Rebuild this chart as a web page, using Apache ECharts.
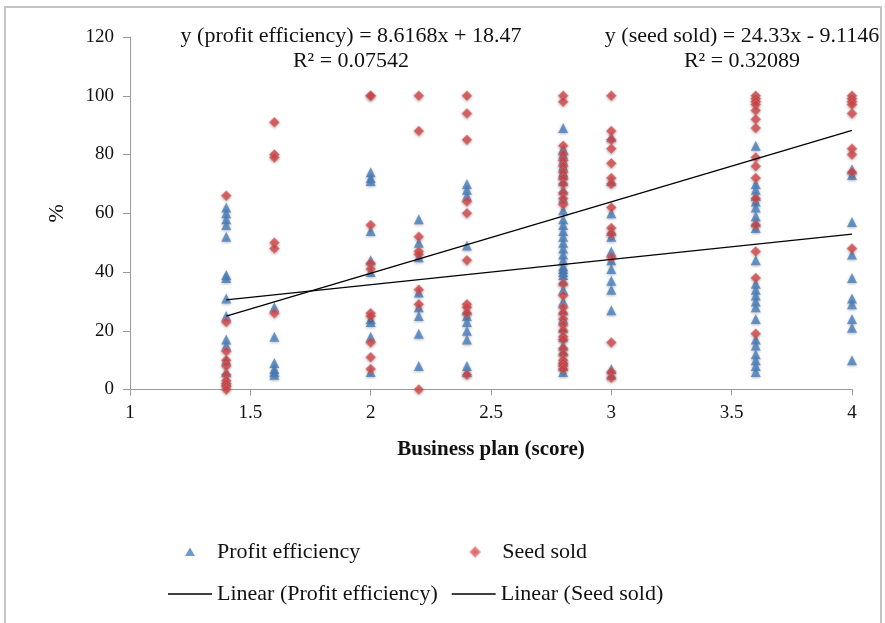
<!DOCTYPE html>
<html>
<head>
<meta charset="utf-8">
<script src="https://cdn.jsdelivr.net/npm/echarts@6/dist/echarts.min.js"></script>
<style>html,body{margin:0;padding:0;background:#fff;}#chart{width:885px;height:623px;}</style>
</head>
<body>
<div id="chart"></div>
<script>
// Business plan score categories (x) and observed values (%)
const xScores = [1.4, 1.6, 2.0, 2.2, 2.4, 2.8, 3.0, 3.6, 4.0];

const profitByScore = [
  [62, 60, 58, 56, 52, 39, 38, 31, 25, 17, 15, 10, 6, 3],
  [28, 18, 9, 7, 6, 5],
  [74, 72, 71, 54, 44, 40, 24, 23, 18, 6],
  [58, 50, 45, 33, 28, 25, 19, 8],
  [70, 68, 66, 49, 27, 25, 23, 20, 17, 8, 6],
  [89, 82, 80, 78, 76, 74, 73, 71, 68, 65, 61, 58, 56, 54, 52, 50, 48, 46, 44, 42, 41, 40, 39, 37, 34, 30, 27, 24, 21, 18, 15, 13, 10, 8, 6],
  [86, 71, 60, 54, 52, 47, 44, 41, 37, 34, 27, 7, 5],
  [83, 70, 68, 66, 64, 62, 59, 57, 55, 44, 36, 34, 32, 30, 28, 24, 17, 15, 12, 10, 8, 6],
  [75, 73, 57, 46, 38, 31, 29, 24, 21, 10]
];

const seedByScore = [
  [66, 23, 13, 10, 8, 5, 3, 2, 1, 0],
  [91, 80, 79, 50, 48, 26],
  [100, 100, 56, 43, 41, 26, 25, 16, 11, 7],
  [100, 88, 52, 47, 46, 34, 29, 0],
  [100, 94, 85, 64, 60, 44, 29, 28, 26, 5],
  [100, 98, 83, 80, 78, 76, 74, 72, 70, 67, 65, 63, 36, 32, 28, 26, 24, 22, 20, 18, 17, 14, 12, 10, 9, 8, 7],
  [100, 88, 85, 82, 77, 72, 70, 62, 55, 53, 45, 16, 6, 4],
  [100, 99, 98, 97, 95, 92, 89, 79, 76, 72, 65, 56, 47, 38, 19],
  [100, 99, 98, 97, 94, 82, 80, 74, 48]
];

// Trendline end points
const profitTrend = [[1.4, 30.5], [4.0, 52.9]];
const seedTrend = [[1.4, 25.0], [4.0, 88.2]];

const profitLabel = 'y (profit efficiency) = 8.6168x + 18.47\nR² = 0.07542';
const seedLabel = 'y (seed sold) = 24.33x - 9.1146\nR² = 0.32089';

function toPairs(groups) {
  const out = [];
  groups.forEach((vals, i) => vals.forEach(v => out.push([xScores[i], v])));
  return out;
}

const FONT = '"Liberation Serif", "Times New Roman", serif';
const AXIS_COLOR = '#9a9a9a';
// legend icons laid out inside a 44x10 box so they keep their shape
const ICON_TRI = 'path://M0,0 M44,10 M22,0.5 L27,9 L17,9 Z';
const ICON_DIA = 'path://M0,0 M44,10 M22,0.5 L26.5,5 L22,9.5 L17.5,5 Z';
const ICON_LINE = 'path://M0,0 M44,10 M0,4.3 L44,4.3 L44,5.7 L0,5.7 Z';

const legendText = { fontFamily: FONT, fontSize: 22, color: '#111' };

const chart = echarts.init(document.getElementById('chart'));
chart.setOption({
  backgroundColor: '#fff',
  animation: false,
  textStyle: { fontFamily: FONT, color: '#111' },
  graphic: [
    { type: 'polyline', shape: { points: [[5, 640], [5, 7], [881, 7], [881, 640]] },
      style: { stroke: '#c4c4c4', lineWidth: 2, fill: null } }
  ],
  title: [
    { text: profitLabel, left: 346, top: 19, textAlign: 'center',
      textStyle: { fontFamily: FONT, fontSize: 22, fontWeight: 'normal', color: '#111', lineHeight: 25, align: 'center' } },
    { text: seedLabel, left: 737, top: 19, textAlign: 'center',
      textStyle: { fontFamily: FONT, fontSize: 22, fontWeight: 'normal', color: '#111', lineHeight: 25, align: 'center' } }
  ],
  grid: { left: 130, right: 33, top: 37, bottom: 233.5, containLabel: false },
  xAxis: {
    type: 'value', min: 1, max: 4, interval: 0.5,
    name: 'Business plan (score)', nameLocation: 'middle', nameGap: 50,
    nameTextStyle: { fontFamily: FONT, fontSize: 21, fontWeight: 'bold', color: '#111' },
    axisLine: { lineStyle: { color: AXIS_COLOR, width: 1 } },
    axisTick: { show: true, length: 6, lineStyle: { color: AXIS_COLOR } },
    axisLabel: { fontFamily: FONT, fontSize: 19, color: '#111', margin: 14 },
    splitLine: { show: false }
  },
  yAxis: {
    type: 'value', min: 0, max: 120, interval: 20,
    name: '%', nameLocation: 'middle', nameGap: 62, nameRotate: 90,
    nameTextStyle: { fontFamily: FONT, fontSize: 22, color: '#111' },
    axisLine: { show: true, lineStyle: { color: AXIS_COLOR, width: 1 } },
    axisTick: { show: true, length: 7, lineStyle: { color: AXIS_COLOR } },
    axisLabel: { fontFamily: FONT, fontSize: 19, color: '#111', margin: 16 },
    splitLine: { show: false }
  },
  legend: [
    { data: [{ name: 'Profit efficiency', icon: ICON_TRI }, { name: 'Seed sold', icon: ICON_DIA }],
      left: 163, top: 536, orient: 'horizontal',
      itemWidth: 44, itemHeight: 10, itemGap: 92, textStyle: legendText },
    { data: [{ name: 'Linear (Profit efficiency)', icon: ICON_LINE }, { name: 'Linear (Seed sold)', icon: ICON_LINE }],
      left: 163, top: 578, orient: 'horizontal',
      itemWidth: 44, itemHeight: 10, itemGap: 14, textStyle: legendText }
  ],
  series: [
    { name: 'Profit efficiency', type: 'scatter', data: toPairs(profitByScore),
      symbol: 'triangle', symbolSize: [10, 10],
      itemStyle: { color: '#4a7fc1', shadowBlur: 3, shadowColor: 'rgba(0,0,0,0.35)', shadowOffsetY: 1 }, z: 2 },
    { name: 'Seed sold', type: 'scatter', data: toPairs(seedByScore),
      symbol: 'diamond', symbolSize: [10, 10],
      itemStyle: { color: '#d9484b', borderColor: '#e87f7f', borderWidth: 0.6, shadowBlur: 3, shadowColor: 'rgba(0,0,0,0.35)', shadowOffsetY: 1 }, z: 3 },
    { name: 'Linear (Profit efficiency)', type: 'line', data: profitTrend, symbol: 'none',
      lineStyle: { color: '#000', width: 1.3 }, itemStyle: { color: '#000' }, z: 4 },
    { name: 'Linear (Seed sold)', type: 'line', data: seedTrend, symbol: 'none',
      lineStyle: { color: '#000', width: 1.3 }, itemStyle: { color: '#000' }, z: 4 }
  ]
});
</script>
</body>
</html>
